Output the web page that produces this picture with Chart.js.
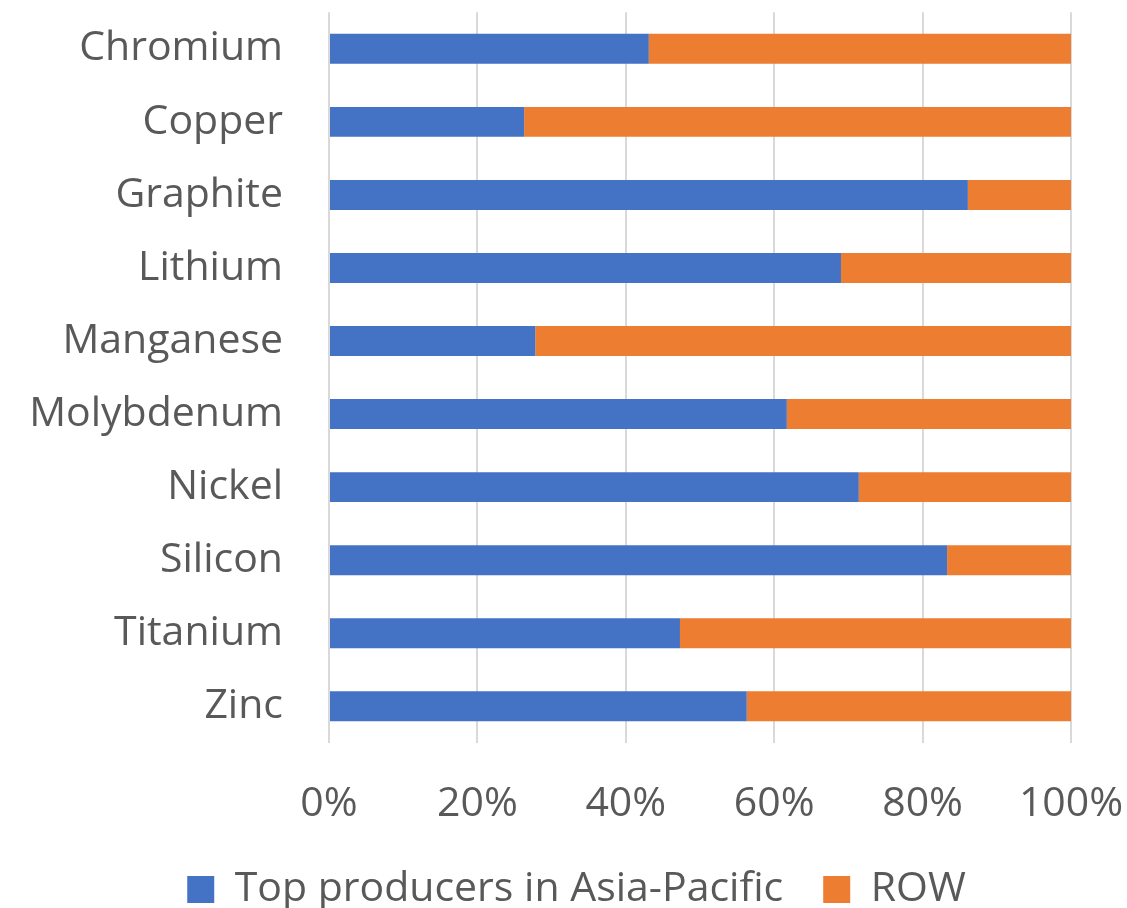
<!DOCTYPE html>
<html>
<head>
<meta charset="utf-8">
<script src="https://cdn.jsdelivr.net/npm/chart.js@4/dist/chart.umd.min.js"></script>
<style>
  html, body { margin: 0; padding: 0; background: #fff; }
  #wrap { width: 1127px; height: 908px; }
</style>
</head>
<body>
<div id="wrap"><canvas id="chart" width="1127" height="908"></canvas></div>
<script>
// minerals and share of production
const minerals = ["Chromium", "Copper", "Graphite", "Lithium", "Manganese", "Molybdenum", "Nickel", "Silicon", "Titanium", "Zinc"];
const asiaPacific = [43.1, 26.3, 86.1, 69.0, 27.8, 61.7, 71.4, 83.3, 47.3, 56.3];
const restOfWorld = [56.9, 73.7, 13.9, 31.0, 72.2, 38.3, 28.6, 16.7, 52.7, 43.7];
const xTicks = [0, 20, 40, 60, 80, 100];

const textColor = "#595959";
const fontFamily = "'Open Sans', sans-serif";

const ctx = document.getElementById("chart").getContext("2d");
new Chart(ctx, {
  type: "bar",
  data: {
    labels: minerals,
    datasets: [
      {
        label: "Top producers in Asia-Pacific",
        data: asiaPacific,
        backgroundColor: "#4472C4",
        barPercentage: 0.41,
        categoryPercentage: 1
      },
      {
        label: "ROW",
        data: restOfWorld,
        backgroundColor: "#ED7D31",
        barPercentage: 0.41,
        categoryPercentage: 1
      }
    ]
  },
  options: {
    indexAxis: "y",
    responsive: false,
    animation: false,
    // left padding nudges the legend right; the y axis width makes up for it
    layout: { padding: { top: 0, right: 0, bottom: -12, left: 26 } },
    scales: {
      x: {
        stacked: true,
        min: 0,
        max: 100,
        afterBuildTicks: axis => { axis.ticks = xTicks.map(v => ({ value: v })); },
        afterFit: axis => { axis.paddingRight = 56; },
        border: { display: false },
        // tick marks are invisible, they only make room above the labels
        grid: { color: "#d9d9d9", lineWidth: 2, tickColor: "transparent", tickLength: 37 },
        ticks: {
          color: textColor,
          font: { family: fontFamily, size: 41 },
          padding: 0,
          callback: v => v + "%"
        }
      },
      y: {
        stacked: true,
        border: { display: false },
        grid: { color: "transparent", drawOnChartArea: false, tickColor: "transparent", tickLength: 46 },
        afterFit: axis => { axis.width = 303; },
        ticks: {
          color: textColor,
          font: { family: fontFamily, size: 41, lineHeight: 0.6 },
          padding: 0
        }
      }
    },
    plugins: {
      legend: {
        position: "bottom",
        labels: {
          color: textColor,
          font: { family: fontFamily, size: 41 },
          boxWidth: 27,
          boxHeight: 27,
          padding: 40
        }
      },
      tooltip: { enabled: false }
    }
  }
});
</script>
</body>
</html>
